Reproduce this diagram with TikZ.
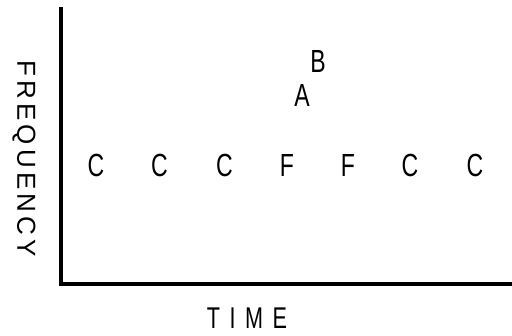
\documentclass[tikz,border=0pt]{standalone}
\usepackage{fontspec}
\setmainfont{Liberation Sans}
\newcommand{\nl}[1]{\scalebox{0.72}[1]{#1}}
\begin{document}
\begin{tikzpicture}[x=1pt,y=-1pt,
  lbl/.style={inner sep=0pt,anchor=center,font=\fontsize{32}{32}\selectfont},
  axis/.style={line width=3.8pt}]
\useasboundingbox (0,0) rectangle (512,336);
\coordinate (top) at (61,7);
\coordinate (orig) at (61,284);
\coordinate (right) at (512,284);
\draw[axis] (top) -- (orig) -- (right);
\foreach \x/\t [count=\i] in {96/C,159.5/C,224.5/C,287/F,348/F,410/C,475/C}
  \node[lbl] (n\i) at (\x,165.5) {\nl{\t}};
\node[lbl] (a) at (302,95) {\nl{A}};
\node[lbl] (b) at (318,61) {\nl{B}};
\node[lbl,font=\fontsize{30}{30}\selectfont] (time) at (247,318) {\nl{T}\hspace{9.5pt}\nl{I}\hspace{9.5pt}\nl{M}\hspace{9.5pt}\nl{E}};
\node[lbl,rotate=-90,font=\fontsize{26}{26}\selectfont] (freq) at (24,158.5)
  {F\hspace{4.2pt}R\hspace{4.2pt}E\hspace{4.2pt}Q\hspace{4.2pt}U\hspace{4.2pt}E\hspace{4.2pt}N\hspace{4.2pt}C\hspace{4.2pt}Y};
\end{tikzpicture}
\end{document}
